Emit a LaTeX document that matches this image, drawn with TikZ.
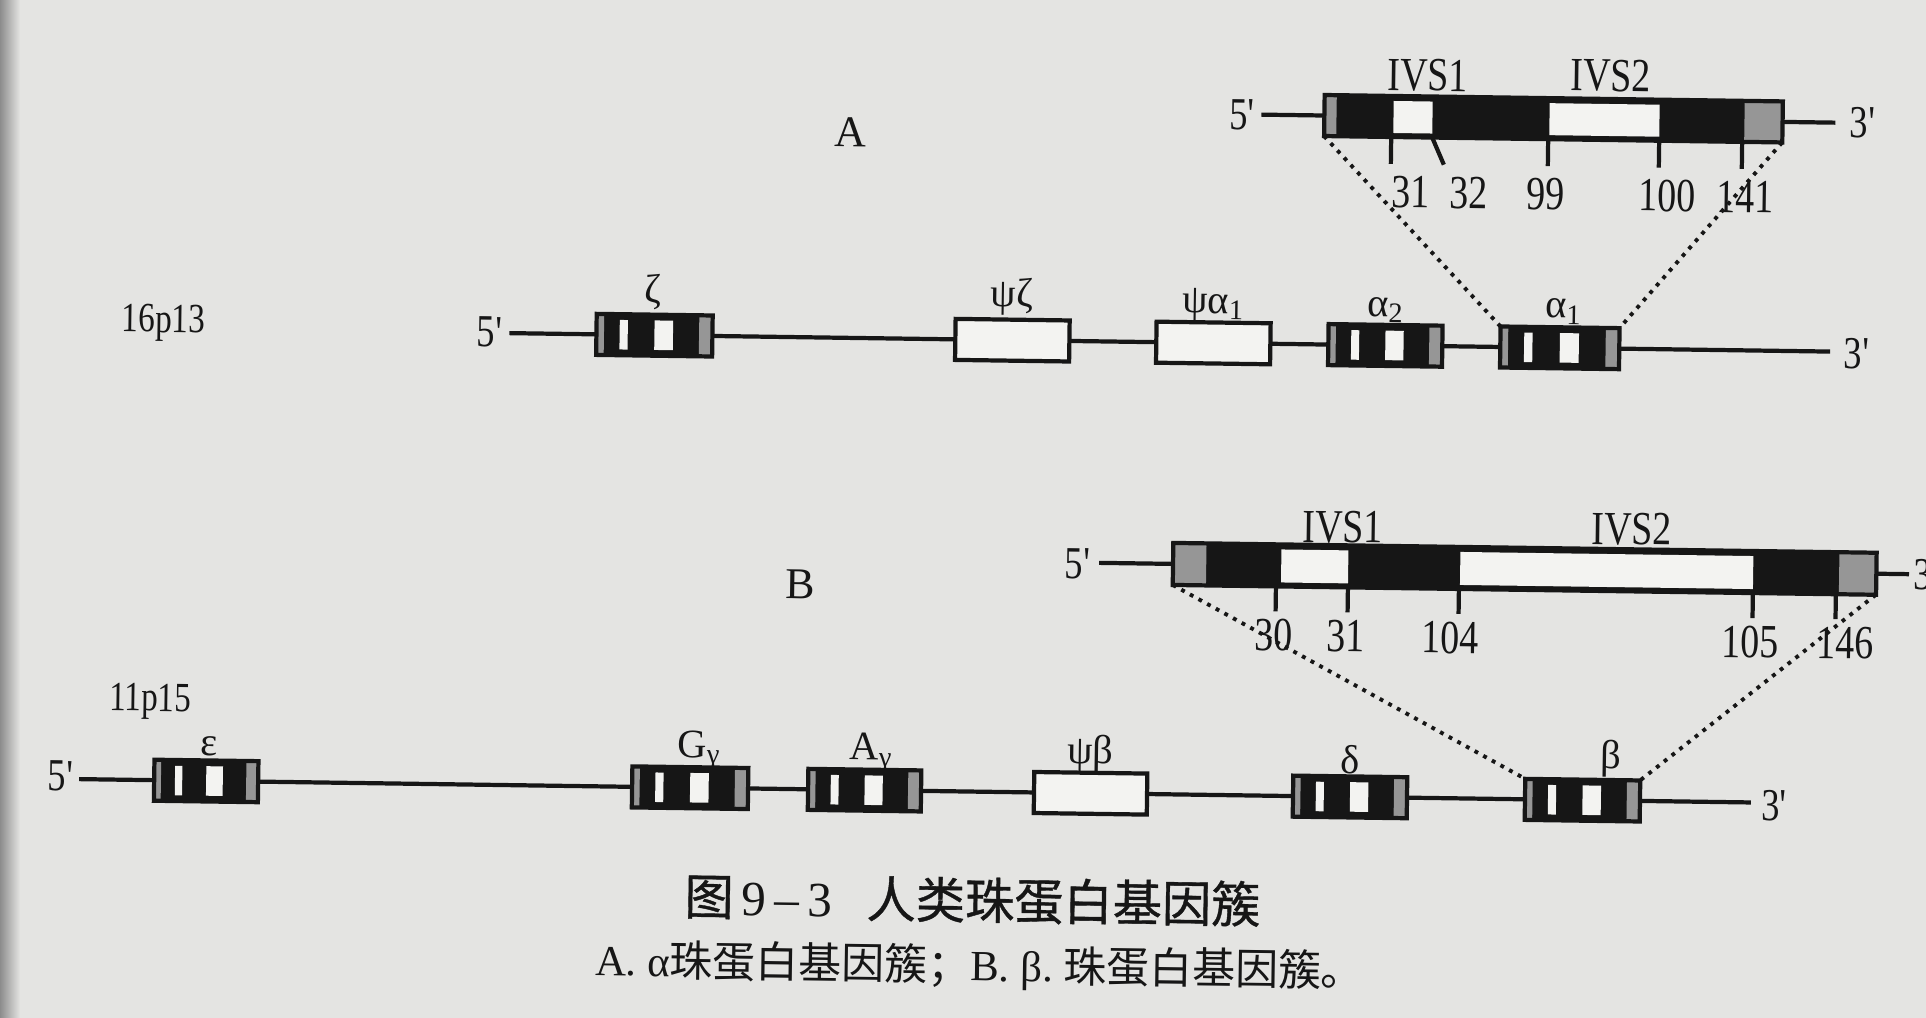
\documentclass[tikz,border=0pt]{standalone}
\usepackage{fontspec}
\setmainfont{Liberation Serif}
\newfontfamily\cjk{Noto Sans CJK SC}
\newfontfamily\cjkb[FakeBold=0.8]{Noto Sans CJK SC}
\newfontfamily\nar[FakeStretch=0.8]{Liberation Serif}
\usetikzlibrary{calc}
\definecolor{paper}{RGB}{228,228,226}
\definecolor{win}{RGB}{243,243,241}
\definecolor{stip}{RGB}{150,150,150}
\definecolor{ink}{RGB}{22,22,22}
\newcommand\szLab{\nar\fontsize{13.5}{16}\selectfont}
\newcommand\szTag{\nar\fontsize{13}{15}\selectfont}
\newcommand\szGr{\fontsize{11.5}{13}\selectfont}
\newcommand\szCapA{\fontsize{14}{17}\selectfont}
\newcommand\szCapB{\fontsize{12.2}{15}\selectfont}
\newcommand\pr{\textquotesingle}
% striped gene body: cx, cy, w, h
\newcommand\genepat[4]{%
  \pgfmathsetmacro\gpL{#1-#3/2}%
  \pgfmathsetmacro\gpR{#1+#3/2}%
  \pgfmathsetmacro\gpT{#2-#4/2}%
  \pgfmathsetmacro\gpB{#2+#4/2}%
  \pgfmathsetmacro\gpTi{#2-#4/2+0.14*#4}%
  \pgfmathsetmacro\gpBi{#2+#4/2-0.14*#4}%
  \pgfmathsetmacro\gpA{#1-#3/2+0.065*#3}%
  \pgfmathsetmacro\gpBa{#1-#3/2+0.20*#3}%
  \pgfmathsetmacro\gpC{#1-#3/2+0.27*#3}%
  \pgfmathsetmacro\gpD{#1-#3/2+0.50*#3}%
  \pgfmathsetmacro\gpE{#1-#3/2+0.66*#3}%
  \pgfmathsetmacro\gpF{#1-#3/2+0.885*#3}%
  \fill[ink] (\gpL,\gpT) rectangle (\gpR,\gpB);
  \fill[stip] (\gpL,\gpT) rectangle (\gpA,\gpB);
  \fill[stip] (\gpF,\gpT) rectangle (\gpR,\gpB);
  \fill[win] (\gpBa,\gpTi) rectangle (\gpC,\gpBi);
  \fill[win] (\gpD,\gpTi) rectangle (\gpE,\gpBi);
}
\newcommand\gene[4]{% name, cx, cy, w
  \genepat{#2}{#3}{#4}{41}
  \node[gout, minimum width=#4*0.01cm] (#1) at (#2,#3) {};
}
\tikzset{
  gout/.style={draw=ink, line width=1.2pt, minimum height=0.41cm, inner sep=0pt, outer sep=0pt},
  gopen/.style={draw=ink, fill=win, line width=1.2pt, minimum height=0.41cm, inner sep=0pt, outer sep=0pt},
  lab/.style={inner sep=0pt, text=ink, font=\szLab},
  tag/.style={inner sep=0pt, text=ink, font=\szTag},
  gr/.style={inner sep=0pt, text=ink, font=\szGr},
  chain/.style={draw=ink, line width=1.2pt},
  tick/.style={draw=ink, line width=1.2pt},
  dotl/.style={draw=ink, line width=1.1pt, dash pattern=on 1.1pt off 1.7pt},
}
\begin{document}
\begin{tikzpicture}[x=0.01cm, y=-0.01cm]
\fill[paper] (0,0) rectangle (1926,1018);
\useasboundingbox (0,0) rectangle (1926,1018);
\shade[left color=black!45, right color=paper] (0,0) rectangle (20,1018);

\begin{scope}[rotate around={-0.8:(963,509)}, transform shape]

% ---------- A : expanded alpha1 gene ----------
\node[tag] (A) at (845,134) {\rmfamily\fontsize{12.5}{14}\selectfont A};
\fill[ink] (1319,90) rectangle (1777,131);
\fill[stip] (1319,90) rectangle (1331,131);
\fill[win] (1388,95) rectangle (1427,127);
\fill[win] (1544,95) rectangle (1654,127);
\fill[stip] (1739,90) rectangle (1777,131);
\node[gout, minimum width=4.58cm] (Tbox) at (1548,110.5) {};
\node[tag] (T5) at (1237,111) {5\pr};
\node[tag] (T3) at (1858,110) {3\pr};
\coordinate (T5e) at (1256,110.5);
\coordinate (T3e) at (1830,110.5);
\draw[chain] (T5e) -- (Tbox.west);
\draw[chain] (Tbox.east) -- (T3e);
\node[lab] (Tivs1) at (1422,69) {IVS1};
\node[lab] (Tivs2) at (1605,67) {IVS2};
\draw[tick] (1386,131) -- (1386,158);
\draw[tick] (1427,131) -- (1439,158);
\draw[tick] (1543,131) -- (1543,158);
\draw[tick] (1654,131) -- (1654,158);
\draw[tick] (1737,131) -- (1737,158);
\node[lab] (n31) at (1406,186) {31};
\node[lab] (n32) at (1464,186) {32};
\node[lab] (n99) at (1541,186) {99};
\node[lab] (n100) at (1663,186) {100};
\node[lab] (n141) at (1741,186) {141};

% ---------- 16p13 : alpha cluster ----------
\node[lab, font=\nar\fontsize{11.8}{14}\selectfont] (c16) at (161,334) {16p13};
\node[tag] (R15) at (488,339) {5\pr};
\coordinate (R1s) at (507,339.5);
\coordinate (R1e) at (1828,339.5);
\gene{zeta}{652}{339.5}{116}
\node[gopen, minimum width=1.14cm] (pzeta) at (1010,339.5) {};
\node[gopen, minimum width=1.14cm] (palpha) at (1211,339.5) {};
\gene{alphb}{1383}{339.5}{114}
\gene{alpha}{1557.5}{339.5}{119}
\node[tag] (R13) at (1855,341) {3\pr};
\draw[chain] (R1s) -- (zeta.west);
\draw[chain] (zeta.east) -- (pzeta.west);
\draw[chain] (pzeta.east) -- (palpha.west);
\draw[chain] (palpha.east) -- (alphb.west);
\draw[chain] (alphb.east) -- (alpha.west);
\draw[chain] (alpha.east) -- (R1e);
\node[gr] (lzeta) at (650,296) {ζ};
\node[gr] (lpzeta) at (1009,296) {ψζ};
\node[gr] (lpalpha) at (1211,302) {ψα\textsubscript{1}};
\node[gr] (lalphb) at (1383,304) {α\textsubscript{2}};
\node[gr] (lalpha) at (1561,303) {α\textsubscript{1}};
\draw[dotl] (Tbox.south west) -- (alpha.north west);
\draw[dotl] (Tbox.south east) -- (alpha.north east);

% ---------- B : expanded beta gene ----------
\node[tag] (B) at (801,587) {\rmfamily\fontsize{12.5}{14}\selectfont B};
\fill[ink] (1174,540) rectangle (1877,582);
\fill[stip] (1174,540) rectangle (1207,582);
\fill[win] (1282,545) rectangle (1349,578);
\fill[win] (1461,545) rectangle (1754,578);
\fill[stip] (1840,540) rectangle (1877,582);
\node[gout, minimum width=7.03cm, minimum height=0.42cm] (Bbox) at (1525.5,561) {};
\node[tag] (B5) at (1079,562) {5\pr};
\node[tag, anchor=west] (B3) at (1914,561) {3\pr};
\coordinate (B5e) at (1100,561);
\coordinate (B3e) at (1910,561);
\draw[chain] (B5e) -- (Bbox.west);
\draw[chain] (Bbox.east) -- (B3e);
\node[lab] (Bivs1) at (1343,522) {IVS1};
\node[lab] (Bivs2) at (1632,520) {IVS2};
\draw[tick] (1277,582) -- (1277,607);
\draw[tick] (1349,582) -- (1349,607);
\draw[tick] (1460,582) -- (1460,607);
\draw[tick] (1754,582) -- (1754,607);
\draw[tick] (1837,582) -- (1837,607);
\node[lab] (n30) at (1275,631) {30};
\node[lab] (n31b) at (1347,631) {31};
\node[lab] (n104) at (1452,631) {104};
\node[lab] (n105) at (1752,631) {105};
\node[lab] (n146) at (1847,631) {146};

% ---------- 11p15 : beta cluster ----------
\node[lab, font=\nar\fontsize{11.8}{14}\selectfont] (c11) at (153,713) {11p15};
\node[tag] (R25) at (65,789) {5\pr};
\coordinate (R2s) at (83,791.5);
\coordinate (R2e) at (1755,791.5);
\gene{eps}{210}{791.5}{104}
\gene{ggam}{694}{791.5}{116}
\gene{agam}{868.5}{791.5}{113}
\node[gopen, minimum width=1.13cm] (pbeta) at (1094.5,791.5) {};
\gene{delta}{1354}{791.5}{114}
\gene{beta}{1586.5}{791.5}{115}
\node[tag] (R23) at (1779,794) {3\pr};
\draw[chain] (R2s) -- (eps.west);
\draw[chain] (eps.east) -- (ggam.west);
\draw[chain] (ggam.east) -- (agam.west);
\draw[chain] (agam.east) -- (pbeta.west);
\draw[chain] (pbeta.east) -- (delta.west);
\draw[chain] (delta.east) -- (beta.west);
\draw[chain] (beta.east) -- (R2e);
\node[gr] (leps) at (212,757) {ε};
\node[gr] (lggam) at (703,754) {G\textsubscript{γ}};
\node[gr] (lagam) at (875,754) {A\textsubscript{γ}};
\node[gr] (lpbeta) at (1094,752) {ψβ};
\node[gr] (ldelta) at (1354,754) {δ};
\node[gr] (lbeta) at (1614,750) {β};
\draw[dotl] (Bbox.south west) -- (beta.north west);
\draw[dotl] (Bbox.south east) -- (beta.north east);

% ---------- caption ----------
\node[inner sep=0pt, text=ink, font=\szCapA] (cap1) at (978,900)
  {{\cjkb 图}\,9\,–\,3\hspace{0.7em}{\cjkb 人类珠蛋白基因簇}};
\node[inner sep=0pt, text=ink, font=\szCapB] (cap2) at (986,967)
  {A.\ α{\cjk 珠蛋白基因簇；}B.\ β.\ {\cjk 珠蛋白基因簇。}};
\end{scope}
\end{tikzpicture}
\end{document}
